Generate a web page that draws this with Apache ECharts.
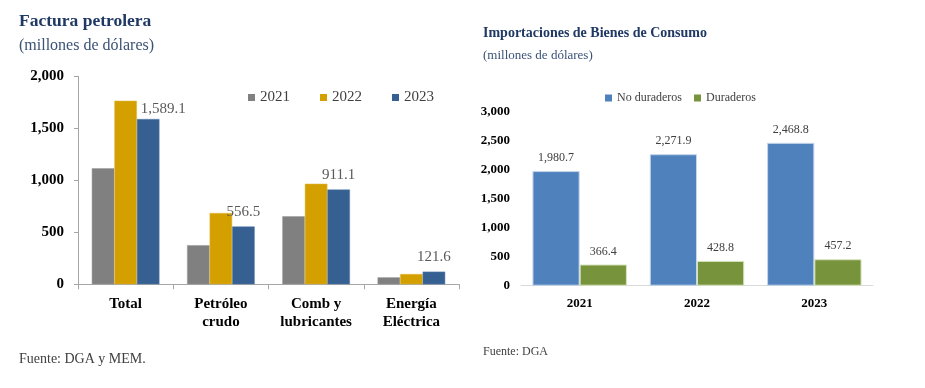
<!DOCTYPE html>
<html><head><meta charset="utf-8">
<script src="https://cdn.jsdelivr.net/npm/echarts@6/dist/echarts.min.js"></script>
<style>html,body{margin:0;padding:0;background:#fff}#c{width:925px;height:388px}</style>
</head><body><div id="c"></div>
<script>
// Left chart data
const fpCategories = ['Total', 'Petróleo\ncrudo', 'Comb y\nlubricantes', 'Energía\nEléctrica'];
const fpYears = ['2021', '2022', '2023'];
const fp2021 = [1116, 376, 654, 67];
const fp2022 = [1765, 685, 967, 99];
const fp2023 = [1589.1, 556.5, 911.1, 121.6];
const fpTicks = [0, 500, 1000, 1500, 2000];

// Right chart data
const bcCategories = ['2021', '2022', '2023'];
const bcNames = ['No duraderos', 'Duraderos'];
const bcNoDuraderos = [1980.7, 2271.9, 2468.8];
const bcDuraderos = [366.4, 428.8, 457.2];
const bcTicks = [0, 500, 1000, 1500, 2000, 2500, 3000];

const SERIF = '"Liberation Serif", "Times New Roman", serif';
const fmt = v => Number(v).toLocaleString('en-US', {minimumFractionDigits: 1, maximumFractionDigits: 1});
const fmtInt = v => Number(v).toLocaleString('en-US');

const chart = echarts.init(document.getElementById('c'), null, {renderer: 'canvas'});

const fp2023Data = fp2023.map((v, i) => i === 0 ? {value: v, label: {offset: [15, 5]}} : v);

chart.setOption({
  animation: false,
  title: [
    {text: 'Factura petrolera', left: 19, top: 12, padding: 0, textStyle: {fontFamily: SERIF, fontSize: 17.5, fontWeight: 'bold', color: '#1F3864'}},
    {text: '(millones de dólares)', left: 19, top: 38, padding: 0, textStyle: {fontFamily: SERIF, fontSize: 16, fontWeight: 'normal', color: '#3A5276'}},
    {text: 'Fuente: DGA y MEM.', left: 19, top: 352, padding: 0, textStyle: {fontFamily: SERIF, fontSize: 14, fontWeight: 'normal', color: '#404040'}},
    {text: 'Importaciones de Bienes de Consumo', left: 483, top: 26, padding: 0, textStyle: {fontFamily: SERIF, fontSize: 14, fontWeight: 'bold', color: '#1F3864'}},
    {text: '(millones de dólares)', left: 483, top: 49, padding: 0, textStyle: {fontFamily: SERIF, fontSize: 13, fontWeight: 'normal', color: '#3A5276'}},
    {text: 'Fuente: DGA', left: 483, top: 346, padding: 0, textStyle: {fontFamily: SERIF, fontSize: 12, fontWeight: 'normal', color: '#404040'}}
  ],
  legend: [
    {data: fpYears, left: 248, top: 90, padding: 0, icon: 'rect', itemWidth: 7, itemHeight: 7, itemGap: 30,
     itemStyle: {borderWidth: 0},
     textStyle: {fontFamily: SERIF, fontSize: 15, color: '#404040'}},
    {data: bcNames, left: 605, top: 92, padding: 0, icon: 'rect', itemWidth: 7, itemHeight: 7, itemGap: 12,
     itemStyle: {borderWidth: 0},
     textStyle: {fontFamily: SERIF, fontSize: 12, color: '#404040'}}
  ],
  grid: [
    {left: 78, right: 466, top: 76.3, bottom: 103.7},
    {left: 521, right: 52, top: 112.1, bottom: 102.3}
  ],
  xAxis: [
    {type: 'category', gridIndex: 0, data: fpCategories,
     axisLine: {lineStyle: {color: '#A6A6A6'}},
     axisTick: {show: true, length: 5, lineStyle: {color: '#A6A6A6'}},
     axisLabel: {fontFamily: SERIF, fontSize: 15, fontWeight: 'bold', color: '#000', lineHeight: 18, margin: 11, interval: 0}},
    {type: 'category', gridIndex: 1, data: bcCategories,
     axisLine: {lineStyle: {color: '#D9D9D9'}},
     axisTick: {show: false},
     axisLabel: {fontFamily: SERIF, fontSize: 13, fontWeight: 'bold', color: '#000', margin: 11}}
  ],
  yAxis: [
    {type: 'value', gridIndex: 0, min: fpTicks[0], max: fpTicks[fpTicks.length - 1], interval: fpTicks[1] - fpTicks[0],
     axisLine: {show: true, lineStyle: {color: '#A6A6A6'}},
     axisTick: {show: true, length: 4, lineStyle: {color: '#A6A6A6'}},
     splitLine: {show: false},
     axisLabel: {fontFamily: SERIF, fontSize: 15, fontWeight: 'bold', color: '#000', margin: 14, formatter: fmtInt}},
    {type: 'value', gridIndex: 1, min: bcTicks[0], max: bcTicks[bcTicks.length - 1], interval: bcTicks[1] - bcTicks[0],
     axisLine: {show: false}, axisTick: {show: false}, splitLine: {show: false},
     axisLabel: {fontFamily: SERIF, fontSize: 13, fontWeight: 'bold', color: '#000', margin: 11, formatter: fmtInt}}
  ],
  series: [
    {name: fpYears[0], type: 'bar', xAxisIndex: 0, yAxisIndex: 0, data: fp2021, barGap: '0%', barCategoryGap: '29%',
     itemStyle: {color: '#808080', borderColor: '#9a9a9a', borderWidth: 0.5}},
    {name: fpYears[1], type: 'bar', xAxisIndex: 0, yAxisIndex: 0, data: fp2022, barGap: '0%', barCategoryGap: '29%',
     itemStyle: {color: '#D4A000', borderColor: '#e0b840', borderWidth: 0.5}},
    {name: fpYears[2], type: 'bar', xAxisIndex: 0, yAxisIndex: 0, data: fp2023Data, barGap: '0%', barCategoryGap: '29%',
     itemStyle: {color: '#366092', borderColor: '#5a7fae', borderWidth: 0.5},
     label: {show: true, position: 'top', distance: 7, fontFamily: SERIF, fontSize: 15, color: '#595959',
             formatter: p => fmt(p.value)}},
    {name: bcNames[0], type: 'bar', xAxisIndex: 1, yAxisIndex: 1, data: bcNoDuraderos, barGap: '0%', barCategoryGap: '19.5%',
     itemStyle: {color: '#4F81BD', borderColor: '#C5D5EA', borderWidth: 1},
     label: {show: true, position: 'top', distance: 7, fontFamily: SERIF, fontSize: 12, color: '#404040',
             formatter: p => fmt(p.value)}},
    {name: bcNames[1], type: 'bar', xAxisIndex: 1, yAxisIndex: 1, data: bcDuraderos, barGap: '0%', barCategoryGap: '19.5%',
     itemStyle: {color: '#77933C', borderColor: '#D7E4BD', borderWidth: 1},
     label: {show: true, position: 'top', distance: 7, fontFamily: SERIF, fontSize: 12, color: '#404040',
             formatter: p => fmt(p.value)}}
  ]
});
</script>
</body></html>
